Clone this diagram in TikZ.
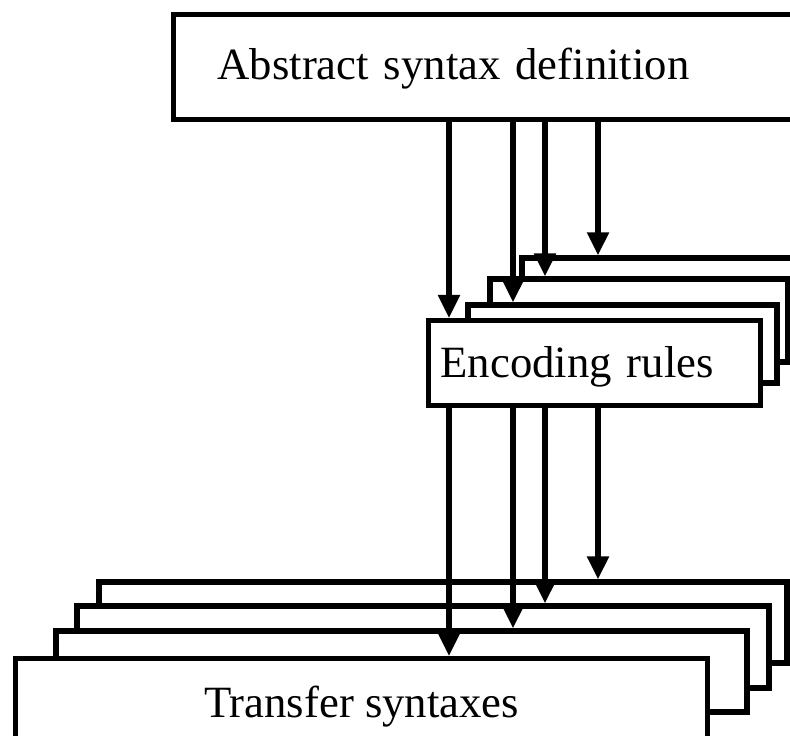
\documentclass[tikz,border=0pt]{standalone}
\usepackage{fontspec}
\setmainfont{Liberation Serif}
\usepackage{tikz}
\usetikzlibrary{arrows.meta}
\usetikzlibrary{fit}

\begin{document}
\begin{tikzpicture}[x=0.25mm, y=-0.25mm,
    ->, >={Triangle[length=5.75mm, width=5.25mm]}, line width=1.3mm,
    box/.style = {draw, fill=white, inner sep=0pt},
    main/.style = {box, anchor=north west, text depth=0pt,
        font=\fontsize{31.8pt}{38pt}\selectfont}]
    \useasboundingbox (0,0) rectangle (790,736);

    % Nodes
    \node[main, minimum width=157.25mm, minimum height=26.25mm, inner xsep=11mm,
        text width=135.25mm, align=left, text height=6.25mm] (abs) at (171,12) {Abstract syntax definition};

    \node[box, fit={(522,258) (800,342)}] (enc4) {};
    \node[box, fit={(490,279) (788,362)}] (enc3) {};
    \node[box, fit={(468,305) (777,383)}] (enc2) {};
    \node[main, minimum width=83mm, minimum height=21.25mm, inner xsep=3mm,
        text width=77mm, align=left, text height=7.25mm] (enc1) at (426,318) {Encoding rules};

    \node[box, fit={(99,582) (787,663)}] (tr4) {};
    \node[box, fit={(77,606) (769,688)}] (tr3) {};
    \node[box, fit={(56,631) (747,712)}] (tr2) {};
    \node[main, minimum width=173mm, minimum height=20.25mm, align=center,
        text height=9.25mm] (tr1) at (13,656) {Transfer syntaxes};

    \coordinate (c1) at (449,0);
    \coordinate (c2) at (513,0);
    \coordinate (c3) at (545,0);
    \coordinate (c4) at (598,0);

    % Edges
    \draw (abs.south -| c1) -- (enc1.north -| c1);
    \draw (abs.south -| c2) -- (enc2.north -| c2);
    \draw (abs.south -| c3) -- (enc3.north -| c3);
    \draw (abs.south -| c4) -- (enc4.north -| c4);

    \draw (enc1.south -| c1) -- (tr1.north -| c1);
    \draw (enc1.south -| c2) -- (tr2.north -| c2);
    \draw (enc1.south -| c3) -- (tr3.north -| c3);
    \draw (enc1.south -| c4) -- (tr4.north -| c4);

\end{tikzpicture}
\end{document}
